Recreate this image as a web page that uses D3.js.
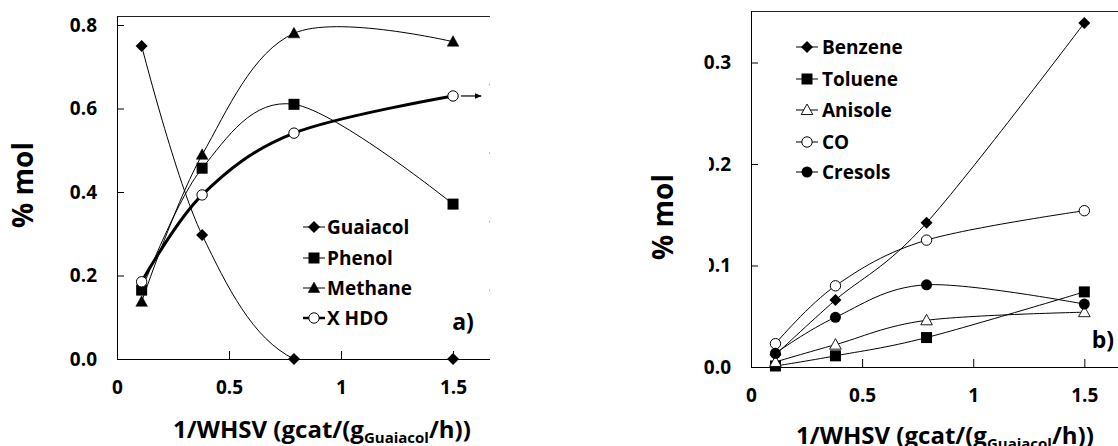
<!DOCTYPE html>
<html>
<head>
<meta charset="utf-8">
<script src="https://cdn.jsdelivr.net/npm/d3@7"></script>
<style>
  html, body { margin: 0; padding: 0; background: #fff; }
  svg { display: block; }
  text { font-family: "Open Sans", "Noto Sans", sans-serif; font-weight: 700; fill: #000; }
</style>
</head>
<body>
<svg id="chart" width="1118" height="446"></svg>
<script>
// ---------- data ----------
const xValues = [0.11, 0.38, 0.79, 1.5];
const xTicks = [0, 0.5, 1, 1.5];
const xTickLabels = ["0", "0.5", "1", "1.5"];

// panel a)
const guaiacol = [0.75, 0.297, 0, 0];
const phenol   = [0.165, 0.457, 0.61, 0.371];
const methane  = [0.137, 0.489, 0.78, 0.76];
const xHDO     = [0.185, 0.393, 0.541, 0.63];
const yTicksA = [0, 0.2, 0.4, 0.6, 0.8];
const yTickLabelsA = ["0.0", "0.2", "0.4", "0.6", "0.8"];
const rightTicksA = [0, 20, 40, 60, 80, 100];

// panel b)
const benzene = [0.012, 0.066, 0.142, 0.339];
const toluene = [0.001, 0.011, 0.029, 0.074];
const anisole = [0.005, 0.022, 0.046, 0.054];
const co      = [0.023, 0.080, 0.125, 0.154];
const cresols = [0.0135, 0.049, 0.081, 0.062];
const yTicksB = [0, 0.1, 0.2, 0.3];
const yTickLabelsB = ["0.0", "0.1", "0.2", "0.3"];

const seriesA = [
  { name: "Guaiacol", values: guaiacol, marker: "diamond", width: 1 },
  { name: "Phenol",   values: phenol,   marker: "square",  width: 1 },
  { name: "Methane",  values: methane,  marker: "triangle", width: 1 },
  { name: "X HDO",    values: xHDO,     marker: "circleOpen", width: 3 }
];
const seriesB = [
  { name: "Benzene", values: benzene, marker: "diamond", width: 1 },
  { name: "Toluene", values: toluene, marker: "square", width: 1 },
  { name: "Anisole", values: anisole, marker: "triangleOpen", width: 1 },
  { name: "CO",      values: co,      marker: "circleOpen", width: 1 },
  { name: "Cresols", values: cresols, marker: "circle", width: 1 }
];

// ---------- drawing ----------
const svg = d3.select("#chart");
const FONT = '"Open Sans", "Noto Sans", sans-serif';

function drawMarker(g, type, x, y) {
  if (type === "diamond") {
    const s = 6;
    g.append("path").attr("d", `M${x},${y - s}L${x + s},${y}L${x},${y + s}L${x - s},${y}Z`).attr("fill", "#000");
  } else if (type === "square") {
    g.append("rect").attr("x", x - 5.5).attr("y", y - 5.5).attr("width", 11).attr("height", 11).attr("fill", "#000");
  } else if (type === "triangle" || type === "triangleOpen") {
    const open = type === "triangleOpen";
    g.append("path").attr("d", `M${x},${y - 6}L${x + 5.8},${y + 4.5}L${x - 5.8},${y + 4.5}Z`)
      .attr("fill", open ? "#fff" : "#000").attr("stroke", "#000").attr("stroke-width", open ? 0.9 : 0.5);
  } else if (type === "circleOpen") {
    g.append("circle").attr("cx", x).attr("cy", y).attr("r", 5.2).attr("fill", "#fff").attr("stroke", "#000").attr("stroke-width", 1);
  } else if (type === "circle") {
    g.append("circle").attr("cx", x).attr("cy", y).attr("r", 5.5).attr("fill", "#000");
  }
}

function panel(opts) {
  const { id, x, y, series, yTicks, yTickLabels, top, rightEdge } = opts;
  const g = svg.append("g");
  const [x0, x1] = x.range();
  const y0 = y.range()[0];

  g.append("clipPath").attr("id", id + "clip")
    .append("rect").attr("x", x0).attr("y", top).attr("width", x1 - x0).attr("height", y0 - top);

  g.append("line").attr("x1", x0).attr("x2", rightEdge).attr("y1", top + 0.5).attr("y2", top + 0.5)
    .attr("stroke", "#222").attr("stroke-width", 1);

  const xAxis = d3.axisBottom(x).tickValues(xTicks).tickFormat((d, i) => xTickLabels[i])
    .tickSizeInner(-8).tickSizeOuter(0).tickPadding(22);
  const gx = g.append("g").attr("transform", `translate(0,${y0})`).call(xAxis);
  gx.select(".domain").attr("d", `M${x0},0.5H${rightEdge}`).attr("stroke", "#000");
  gx.selectAll(".tick line").attr("stroke", "#000");
  gx.selectAll(".tick text").attr("font-size", 19).attr("font-family", FONT).attr("font-weight", 700);

  const yAxis = d3.axisLeft(y).tickValues(yTicks).tickFormat((d, i) => yTickLabels[i])
    .tickSizeInner(-7).tickSizeOuter(0).tickPadding(20);
  const gy = g.append("g").attr("transform", `translate(${x0},0)`).call(yAxis);
  gy.select(".domain").attr("d", `M0.5,${top}V${y0 + 0.5}`).attr("stroke", "#000");
  gy.selectAll(".tick line").attr("stroke", "#000");
  gy.selectAll(".tick text").attr("font-size", 19).attr("font-family", FONT).attr("font-weight", 700);

  const line = d3.line().x(d => x(d[0])).y(d => y(d[1])).curve(d3.curveCatmullRom.alpha(0));
  const lg = g.append("g").attr("clip-path", `url(#${id}clip)`);
  series.forEach(s => {
    const pts = xValues.map((xv, i) => [xv, s.values[i]]);
    lg.append("path").attr("d", line(pts)).attr("fill", "none").attr("stroke", "#000")
      .attr("stroke-width", s.width);
  });
  const mg = g.append("g");
  series.forEach(s => {
    xValues.forEach((xv, i) => drawMarker(mg, s.marker, x(xv), y(s.values[i])));
  });
  return g;
}

function legend(items, lx, rowYs, textX) {
  const g = svg.append("g");
  items.forEach((s, i) => {
    const yy = rowYs[i];
    g.append("line").attr("x1", lx[0]).attr("x2", lx[1]).attr("y1", yy).attr("y2", yy)
      .attr("stroke", "#000").attr("stroke-width", s.width === 3 ? 2.5 : 1);
    drawMarker(g, s.marker, (lx[0] + lx[1]) / 2, yy);
    g.append("text").attr("x", textX).attr("y", yy).attr("dy", "0.36em")
      .attr("font-size", 19).text(s.name);
  });
}

// Panel a)
const xA = d3.scaleLinear().domain([0, 1.665]).range([117, 490]);
const yA = d3.scaleLinear().domain([0, 0.8]).range([359, 25]);
const gA = panel({ id: "a", x: xA, y: yA, series: seriesA, yTicks: yTicksA, yTickLabels: yTickLabelsA, top: 16, rightEdge: 490 });

// faint secondary-axis tick marks on the right side of panel a)
const yA2 = d3.scaleLinear().domain([0, 100]).range([359, 16]);
gA.append("g").selectAll("rect").data(rightTicksA.slice(1, 5)).join("rect")
  .attr("x", 489).attr("y", d => yA2(d) - 1).attr("width", 1).attr("height", 2).attr("fill", "#bbb");

// arrow from the last X HDO point
const lastX = xA(xValues[3]), lastY = yA(xHDO[3]);
svg.append("defs").append("marker").attr("id", "arrowhead").attr("viewBox", "0 0 10 10")
  .attr("refX", 9).attr("refY", 5).attr("markerWidth", 6).attr("markerHeight", 6).attr("orient", "auto")
  .append("path").attr("d", "M0,1L10,5L0,9Z").attr("fill", "#000");
gA.append("line").attr("x1", lastX + 8).attr("x2", lastX + 28).attr("y1", lastY).attr("y2", lastY)
  .attr("stroke", "#000").attr("stroke-width", 1.2).attr("marker-end", "url(#arrowhead)");

legend(seriesA, [303, 325], [227, 258, 288, 318], 327);

svg.append("text").attr("x", 463).attr("y", 322).attr("dy", "0.36em").attr("text-anchor", "middle")
  .attr("font-size", 23).text("a)");

svg.append("text").attr("transform", "translate(23,185) rotate(-90)").attr("text-anchor", "middle")
  .attr("dy", "0.36em").attr("font-size", 28).text("% mol");

function xTitle(cx, baseline) {
  const t = svg.append("text").attr("x", cx).attr("y", baseline).attr("text-anchor", "middle").attr("font-size", 24);
  t.append("tspan").text("1/WHSV (gcat/(g");
  t.append("tspan").attr("font-size", 15).attr("dy", 5).text("Guaiacol");
  t.append("tspan").attr("dy", -5).text("/h))");
}
xTitle(322, 438);

// Panel b)
const xB = d3.scaleLinear().domain([0, 1.665]).range([751, 1121]);
const yB = d3.scaleLinear().domain([0, 0.3]).range([367, 62.5]);
panel({ id: "b", x: xB, y: yB, series: seriesB, yTicks: yTicksB, yTickLabels: yTickLabelsB, top: 11, rightEdge: 1118 });

legend(seriesB, [796, 818], [47, 79, 110, 142, 172], 822);

svg.append("text").attr("x", 1103).attr("y", 340).attr("dy", "0.36em").attr("text-anchor", "middle")
  .attr("font-size", 23).text("b)");

// the y-title box of panel b) covers part of its tick labels
svg.append("rect").attr("x", 640).attr("y", 150).attr("width", 69).attr("height", 130).attr("fill", "#fff");
svg.append("text").attr("transform", "translate(663,217) rotate(-90)").attr("text-anchor", "middle")
  .attr("dy", "0.36em").attr("font-size", 28).text("% mol");

xTitle(945, 444);
</script>
</body>
</html>
